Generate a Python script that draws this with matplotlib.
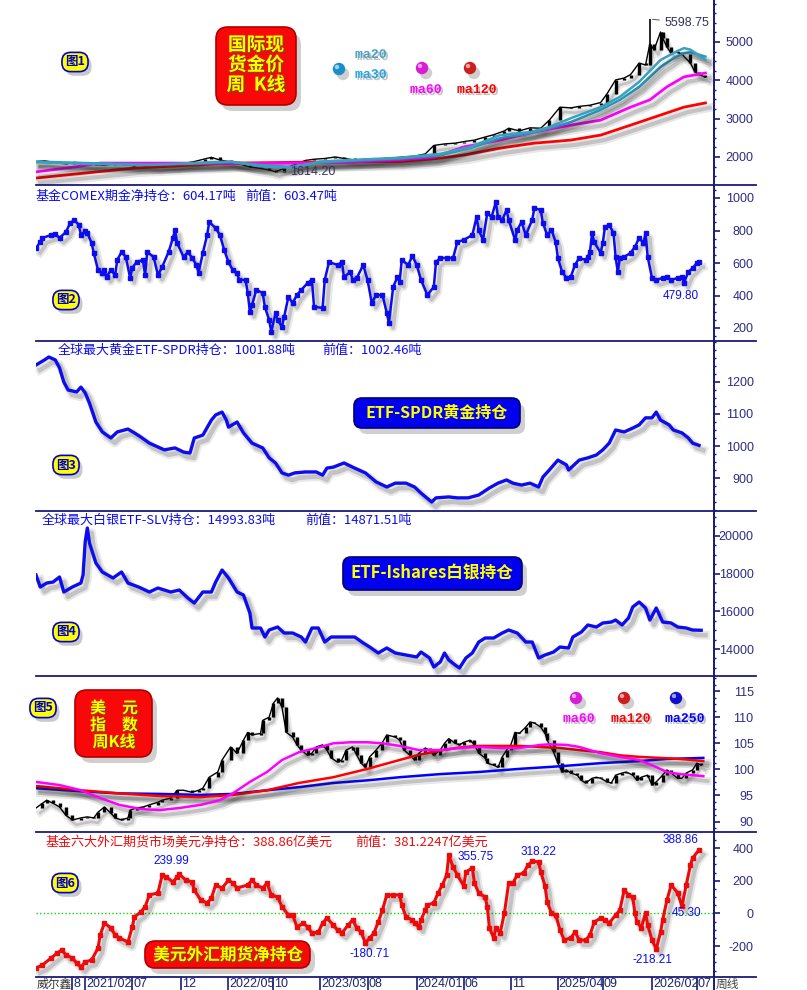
import numpy as np
import matplotlib.pyplot as plt
import matplotlib.patheffects as pe
from matplotlib.patches import FancyBboxPatch
from matplotlib.ticker import AutoMinorLocator

plt.rcParams['font.family'] = ['Noto Sans CJK SC', 'DejaVu Sans']

# ---------------- data (week index since start, value) ----------------
# fig1: gold weekly close + moving averages
gold_wk = [0, 4, 9, 14, 18, 23, 28, 32, 37, 42, 46, 51, 56, 60, 65, 70, 74, 79, 82, 86,
           91, 95, 100, 105, 109, 112, 116, 121, 126, 130, 135, 140, 144, 149, 154, 158, 163, 168, 172, 177,
           182, 186, 191, 196, 200, 205, 210, 214, 219, 221, 226, 231, 236, 240, 245, 250, 254, 259, 264, 267,
           271, 275, 278, 282, 285, 287, 289, 292, 293, 295, 297, 300, 302, 306, 308, 310, 313]
gold_close = [1880, 1900, 1850, 1820, 1860, 1830, 1800, 1780, 1820, 1790, 1770, 1800, 1760, 1780, 1790, 1840, 1880, 1950, 1990, 1920,
              1870, 1820, 1740, 1700, 1660, 1614, 1700, 1800, 1910, 1940, 1960, 2000, 1960, 1920, 1940, 1930, 1960, 1980, 2000, 2020,
              2080, 2300, 2340, 2360, 2400, 2440, 2520, 2580, 2680, 2750, 2680, 2760, 2750, 2960, 3300, 3280, 3320, 3350, 3420, 3650,
              4010, 4060, 4150, 4450, 4400, 4950, 4800, 5260, 5100, 4870, 4700, 4740, 4680, 4450, 4220, 4150, 4080]
gold_peak_wk, gold_peak = 287, 5598.75
gold_low_wk, gold_low = 112, 1614.20

gma_wk = [0, 30, 53, 77, 91, 105, 119, 133, 151, 170, 189, 203, 217, 231, 240, 250, 264, 273, 282, 292, 299, 303, 306, 313]
gma20 = [1860, 1810, 1790, 1850, 1880, 1760, 1720, 1880, 1930, 1980, 2080, 2260, 2570, 2650, 2780, 3010, 3300, 3570, 3960, 4530, 4740, 4840, 4800, 4530]
gma30 = [1880, 1830, 1800, 1830, 1870, 1790, 1740, 1850, 1910, 1960, 2040, 2230, 2490, 2620, 2750, 2910, 3230, 3490, 3830, 4350, 4610, 4710, 4730, 4620]
gma60_wk = [0, 21, 30, 63, 105, 142, 170, 186, 200, 217, 233, 250, 264, 278, 287, 295, 303, 313]
gma60 = [1610, 1760, 1840, 1840, 1830, 1850, 1920, 1990, 2260, 2440, 2650, 2830, 2960, 3300, 3490, 3830, 4090, 4190]
gma120_wk = [0, 46, 92, 139, 170, 186, 200, 217, 233, 250, 264, 278, 295, 303, 313]
gma120 = [1450, 1710, 1840, 1870, 1880, 1950, 2050, 2230, 2360, 2440, 2570, 2830, 3150, 3300, 3410]

# fig2: COMEX fund net gold position (t)
comex_wk = [0, 2, 3, 7, 9, 11, 14, 16, 18, 20, 21, 23, 24, 26, 27, 29, 31, 32, 33, 35,
            37, 38, 40, 42, 44, 45, 47, 50, 51, 52, 55, 57, 59, 62, 64, 65, 66, 69, 71, 73,
            75, 76, 78, 80, 81, 84, 86, 88, 90, 92, 94, 95, 98, 99, 100, 101, 103, 106, 107, 109,
            110, 112, 113, 115, 116, 118, 120, 122, 124, 127, 129, 130, 134, 135, 137, 141, 143, 144, 147, 148,
            150, 153, 155, 157, 159, 162, 164, 165, 167, 169, 170, 171, 174, 176, 178, 180, 183, 186, 187, 189,
            192, 195, 197, 200, 204, 206, 207, 209, 211, 213, 215, 216, 218, 220, 221, 224, 225, 227, 229, 232,
            233, 236, 237, 239, 241, 243, 244, 246, 248, 250, 252, 254, 257, 258, 259, 260, 261, 264, 265, 266,
            268, 270, 271, 272, 273, 275, 278, 280, 282, 284, 285, 286, 288, 290, 293, 295, 297, 300, 302, 303,
            305, 307, 309, 310]
comex_val = [692, 729, 754, 772, 778, 754, 791, 846, 865, 834, 772, 797, 785, 723, 662, 557, 539, 557, 514, 557,
             526, 619, 668, 637, 508, 569, 606, 619, 526, 668, 637, 526, 576, 668, 754, 803, 723, 637, 668, 631,
             588, 539, 662, 772, 852, 815, 772, 680, 606, 557, 539, 496, 496, 416, 299, 342, 434, 416, 330, 250,
             176, 293, 250, 207, 268, 391, 354, 403, 434, 477, 496, 330, 324, 496, 606, 588, 606, 514, 545, 496,
             508, 588, 496, 354, 403, 403, 293, 231, 453, 514, 483, 619, 588, 643, 588, 496, 403, 453, 606, 631,
             631, 631, 729, 742, 772, 883, 803, 742, 908, 883, 975, 883, 865, 926, 865, 742, 803, 852, 772, 865,
             938, 926, 846, 772, 803, 729, 631, 545, 508, 514, 588, 631, 619, 637, 668, 785, 729, 662, 723, 822,
             834, 785, 637, 545, 631, 637, 662, 699, 754, 723, 785, 637, 508, 496, 508, 514, 496, 508, 514, 479.8,
             545, 569, 600, 604.17]
comex_low = 479.80

# fig3: SPDR gold ETF holdings (t)
spdr_wk = [0, 4, 6, 9, 11, 13, 15, 19, 21, 23, 25, 28, 31, 35, 38, 43, 46, 49, 53, 57,
           60, 65, 69, 72, 74, 78, 82, 84, 87, 89, 90, 94, 97, 101, 106, 109, 112, 115, 118, 121,
           126, 131, 134, 136, 139, 144, 149, 154, 159, 164, 168, 173, 177, 180, 185, 187, 193, 197, 202, 207,
           212, 216, 220, 223, 227, 231, 235, 237, 240, 244, 248, 249, 254, 258, 262, 265, 268, 271, 275, 279,
           282, 285, 288, 290, 292, 296, 298, 302, 305, 307, 310]
spdr_val = [1253, 1269, 1278, 1269, 1244, 1200, 1175, 1169, 1184, 1166, 1134, 1075, 1044, 1025, 1044, 1053, 1041, 1028, 1009, 997,
            988, 994, 981, 978, 1025, 1034, 1081, 1097, 1106, 1081, 1059, 1075, 1041, 1009, 994, 963, 947, 916, 909, 916,
            919, 919, 909, 931, 934, 947, 931, 916, 888, 872, 884, 884, 872, 853, 825, 838, 841, 838, 838, 847,
            869, 884, 894, 884, 878, 884, 872, 903, 925, 956, 941, 925, 956, 963, 972, 988, 1009, 1050, 1044, 1056,
            1066, 1088, 1088, 1106, 1081, 1066, 1050, 1041, 1025, 1009, 1002]

# fig4: SLV silver ETF holdings (t)
slv_wk = [0, 2, 5, 8, 11, 13, 17, 21, 22, 23, 24, 25, 28, 31, 36, 40, 43, 48, 53, 57,
          63, 67, 71, 74, 78, 82, 84, 87, 90, 94, 97, 100, 101, 105, 107, 109, 113, 116, 120, 124,
          126, 129, 132, 135, 138, 143, 149, 153, 156, 160, 164, 168, 173, 178, 180, 184, 186, 189, 191, 193,
          196, 198, 201, 204, 207, 210, 214, 218, 221, 225, 229, 232, 235, 238, 242, 245, 249, 251, 255, 258,
          262, 265, 269, 271, 274, 277, 279, 282, 285, 287, 290, 293, 297, 300, 304, 307, 311]
slv_val = [17926, 17289, 17500, 17554, 17820, 17024, 17289, 17500, 17926, 19676, 20419, 19623, 18562, 18085, 17767, 18085, 17500, 17289, 17024, 17236,
           17024, 17130, 16706, 16440, 17024, 17024, 17554, 18190, 17767, 17024, 16865, 15910, 15114, 15114, 14637, 15008, 15167, 14849, 14849, 14637,
           14371, 15114, 15114, 14371, 14637, 14637, 14637, 14318, 14106, 13788, 14053, 13788, 13682, 13576, 13841, 13523, 13045, 13311, 13788, 13417,
           13151, 12992, 13523, 13788, 14371, 14584, 14584, 14849, 15008, 14849, 14371, 14371, 13523, 13682, 13841, 14106, 14053, 14637, 14902, 15273,
           15167, 15379, 15432, 15538, 15273, 15644, 16228, 16493, 16175, 15538, 16175, 15432, 15379, 15167, 15114, 15008, 14994]

# fig5: US dollar index weekly close + moving averages
dxy_wk = [0, 3, 5, 8, 11, 14, 17, 21, 24, 27, 29, 32, 35, 37, 40, 43, 44, 47, 50, 53,
          57, 59, 63, 66, 69, 73, 76, 78, 81, 85, 87, 91, 94, 97, 99, 101, 105, 106, 109, 111,
          113, 115, 117, 120, 122, 124, 127, 129, 131, 134, 136, 138, 141, 143, 145, 148, 150, 152, 154, 156,
          159, 162, 164, 168, 170, 172, 175, 177, 179, 182, 184, 186, 189, 191, 193, 196, 198, 200, 203, 205,
          207, 210, 211, 214, 216, 218, 220, 222, 224, 226, 229, 231, 233, 236, 238, 239, 242, 244, 246, 248,
          250, 253, 255, 257, 260, 262, 264, 267, 269, 271, 274, 276, 279, 281, 283, 286, 288, 290, 293, 295,
          297, 300, 302, 304, 307, 309, 311]
dxy_close = [92.6, 93.5, 94.1, 93.5, 92.8, 91.2, 90.3, 90.7, 90.9, 90.7, 91.8, 92.8, 91.6, 90.7, 90.3, 90.7, 92.2, 92.6, 92.8, 93.2,
             93.7, 94.1, 94.5, 96.0, 96.0, 95.6, 96.0, 96.4, 98.5, 99.5, 101.8, 104.3, 103.1, 105.6, 107.1, 106.6, 106.9, 109.4, 110.0, 112.7,
             113.7, 111.9, 107.1, 106.2, 104.7, 103.7, 102.7, 103.1, 104.3, 104.7, 103.7, 102.2, 101.4, 101.8, 103.7, 104.3, 102.7, 101.2, 100.4, 102.4,
             103.7, 105.2, 106.6, 106.2, 105.6, 103.7, 102.7, 101.8, 103.1, 104.1, 103.7, 102.7, 103.7, 105.0, 105.9, 105.0, 104.7, 105.2, 105.6, 104.7,
             103.1, 102.2, 101.2, 100.8, 100.4, 102.4, 103.7, 104.7, 107.1, 106.9, 108.1, 109.1, 108.9, 108.1, 106.9, 105.6, 103.3, 101.2, 99.5, 99.9,
             99.3, 98.9, 97.9, 97.4, 98.3, 98.5, 98.3, 97.6, 97.4, 98.9, 99.3, 99.5, 98.9, 97.9, 98.5, 98.9, 97.0, 97.6, 98.9, 99.9,
             99.3, 98.3, 98.3, 99.3, 99.9, 101.2, 100.8]
dma60_wk = [0, 11, 21, 30, 39, 49, 58, 67, 77, 86, 92, 100, 108, 115, 123, 133, 139, 147, 155, 162,
            170, 179, 189, 198, 207, 217, 226, 236, 240, 248, 254, 264, 273, 282, 288, 295, 301, 307, 312]
dma60 = [97.6, 97.0, 96.0, 94.5, 93.2, 92.4, 92.2, 92.6, 93.2, 94.1, 95.4, 97.6, 99.5, 101.8, 103.3, 104.3, 105.0, 105.2, 105.2, 105.0,
         104.5, 103.7, 103.7, 104.1, 104.3, 104.1, 104.1, 104.7, 104.8, 104.7, 104.3, 103.1, 102.4, 101.8, 100.8, 99.5, 99.1, 98.9, 98.7]
dma120_wk = [0, 21, 39, 58, 77, 92, 108, 123, 139, 155, 170, 179, 189, 198, 207, 217, 226, 236, 245, 254, 264, 273, 282, 292, 301, 312]
dma120 = [96.8, 96.0, 95.4, 94.9, 94.7, 95.1, 96.0, 97.4, 98.5, 100.1, 101.8, 102.8, 103.6, 104.2, 104.5, 104.5, 104.5, 104.3, 104.1, 103.7,
          103.3, 102.7, 102.4, 102.2, 102.0, 101.6]
dma250_wk = [0, 21, 39, 58, 77, 92, 108, 123, 139, 155, 170, 189, 207, 226, 245, 264, 282, 295, 312]
dma250 = [96.4, 95.8, 95.4, 95.3, 95.1, 95.3, 96.0, 96.6, 97.4, 97.9, 98.5, 99.1, 99.5, 100.1, 100.6, 101.2, 101.6, 102.0, 102.2]

# fig6: fund net USD position on six FX futures (100M USD)
usd_wk = [0, 3, 7, 10, 12, 14, 17, 19, 21, 23, 26, 29, 30, 32, 35, 37, 39, 43, 45, 46,
          49, 51, 53, 57, 59, 61, 64, 66, 67, 70, 73, 74, 77, 80, 82, 84, 87, 90, 92, 94,
          99, 101, 103, 106, 108, 110, 113, 115, 118, 120, 122, 125, 127, 129, 132, 134, 136, 139, 141, 143,
          146, 148, 150, 152, 154, 156, 158, 160, 162, 164, 167, 170, 171, 173, 176, 177, 179, 180, 182, 183,
          186, 188, 190, 192, 193, 195, 197, 200, 201, 204, 205, 207, 210, 211, 212, 214, 215, 217, 219, 221,
          223, 225, 228, 230, 232, 235, 236, 238, 239, 241, 243, 245, 247, 250, 252, 254, 257, 259, 261, 264,
          266, 268, 271, 273, 275, 277, 279, 280, 281, 283, 285, 286, 288, 290, 292, 293, 295, 297, 300, 302,
          304, 306, 307, 310]
usd_val = [-334, -316, -273, -242, -224, -254, -273, -303, -328, -297, -285, -212, -132, -59, -89, -132, -150, -175, -83, -22,
           9, 40, 113, 125, 235, 223, 192, 223, 240, 204, 192, 143, 82, 64, 94, 174, 155, 204, 186, 155,
           174, 204, 174, 155, 186, 113, 100, 40, -10, -10, -83, -59, -83, -120, -114, -59, -28, -71, -102, -120,
           -71, -40, -89, -114, -181, -150, -120, -53, 21, 113, 113, 113, 52, -22, -40, -59, -83, -40, 21, 52,
           64, 125, 174, 235, 356, 284, 235, 168, 253, 278, 186, 125, 100, 40, -89, -150, -89, -120, 3, 186,
           186, 235, 247, 296, 318, 315, 253, 168, 70, 3, -10, -102, -163, -150, -114, -163, -163, -132, -53, -28,
           -40, -59, -10, 21, 143, 113, 100, 3, -53, -89, 3, -71, -163, -218, -114, -40, 82, 174, 125, 45,
           174, 296, 339, 389]
# labelled extremes of fig6: (text, label week, label value)
usd_marks = [('239.99', 54.7, 320), ('-180.71', 146.7, -248), ('355.75', 197.2, 345), ('318.22', 226.6, 376),
             ('388.86', 293, 449), ('45.30', 297.2, 2), ('-218.21', 278.9, -285)]

# bottom date strip
date_wk = [17, 23, 45, 68, 90, 111, 133, 155, 178, 200, 222, 244, 265, 288, 309]
date_lbl = ['8', '2021/02', '07', '12', '2022/05', '10', '2023/03', '08', '2024/01', '06', '11', '2025/04', '09', '2026/02', '07']

# right axis ticks per panel
ticks1 = [2000, 3000, 4000, 5000]
ticks2 = [200, 400, 600, 800, 1000]
ticks3 = [900, 1000, 1100, 1200]
ticks4 = [14000, 16000, 18000, 20000]
ticks5 = [90, 95, 100, 105, 110, 115]
ticks6 = [-200, 0, 200, 400]

# ---------------- layout ----------------
W, H = 807, 990
X0, X1 = 36, 714
NWEEK = 317
NAVY = '#1a1a78'
LBL = '#2c2c88'
BLUE = '#0c0cee'
RED = '#ee0a0a'

fig = plt.figure(figsize=(W / 100, H / 100), dpi=100)
fig.patch.set_facecolor('white')


def shadow(lw):
    # soft drop shadow: a wide faint pass plus a narrower darker one
    return [pe.SimpleLineShadow(offset=(3, -3.5), shadow_color='#202020', alpha=0.10, linewidth=lw + 4),
            pe.SimpleLineShadow(offset=(3, -3.5), shadow_color='#202020', alpha=0.18, linewidth=lw + 1),
            pe.Normal()]


def panel(top, bot, ylim, ticks):
    ax = fig.add_axes([X0 / W, 1 - bot / H, (X1 - X0) / W, (bot - top) / H])
    ax.set_xlim(0, NWEEK)
    ax.set_ylim(*ylim)
    ax.patch.set_alpha(0)
    for s in ('left', 'top', 'bottom'):
        ax.spines[s].set_visible(False)
    ax.spines['right'].set_color(NAVY)
    ax.spines['right'].set_linewidth(1.4)
    ax.set_xticks([])
    ax.yaxis.tick_right()
    ax.set_yticks(ticks)
    ax.set_yticklabels([str(t) for t in ticks], ha='right', fontfamily='Liberation Sans', fontsize=9)
    ax.yaxis.set_minor_locator(AutoMinorLocator(4))
    ax.tick_params(axis='y', which='major', length=4.5, width=1.2, color=NAVY, labelcolor=LBL, pad=24)
    ax.tick_params(axis='y', which='minor', length=1.5, width=1, color=NAVY)
    return ax


def candles(ax, wk, close):
    close = np.asarray(close, dtype=float)
    opn = np.r_[close[0], close[:-1]]
    ax.plot(wk, close, color='k', lw=1.0, path_effects=shadow(1.0))
    ax.vlines(wk, np.minimum(opn, close), np.maximum(opn, close), color='k', lw=2.4)


def marked(ax, wk, val, color, lw, ms):
    ax.plot(wk, val, color=color, lw=lw, path_effects=shadow(lw))
    ax.plot(wk, val, ls='none', marker='s', ms=ms, color=color)


# fig1 gold
ax1 = panel(0, 185, (1268, 6096), ticks1)
candles(ax1, gold_wk, gold_close)
ax1.vlines([gold_peak_wk], [gold_close[gold_wk.index(gold_peak_wk)]], [gold_peak], color='k', lw=1.2)
ax1.plot(gma120_wk, gma120, color='#ff0000', lw=2.0, path_effects=shadow(2.0))
ax1.plot(gma60_wk, gma60, color='#ff00ff', lw=2.0, path_effects=shadow(2.0))
ax1.plot(gma_wk, gma30, color='#2aa0c6', lw=1.8, path_effects=shadow(1.8))
ax1.plot(gma_wk, gma20, color='#3b9fbd', lw=1.8, path_effects=shadow(1.8))
ax1.annotate(f'{gold_peak:.2f}', xy=(gold_peak_wk, gold_peak), xytext=(294, 5500), ha='left', va='center',
             fontsize=9, fontfamily='Liberation Sans', color='#333355',
             arrowprops=dict(arrowstyle='-', color='#555555', lw=0.7))
ax1.annotate(f'{gold_low:.2f}', xy=(gold_low_wk, gold_low), xytext=(119, 1607), ha='left', va='center',
             fontsize=9, fontfamily='Liberation Sans', color='#333355',
             arrowprops=dict(arrowstyle='-', color='#555555', lw=0.7))

# fig2 COMEX
ax2 = panel(185, 341, (120, 1080), ticks2)
marked(ax2, comex_wk, comex_val, BLUE, 1.8, 2.8)
ax2.text(293, 397, f'{comex_low:.2f}', ha='left', va='center',
         fontsize=8.5, fontfamily='Liberation Sans', color=BLUE)

# fig3 SPDR
ax3 = panel(341, 511, (797, 1328), ticks3)
ax3.plot(spdr_wk, spdr_val, color=BLUE, lw=2.4, path_effects=shadow(2.4))

# fig4 SLV
ax4 = panel(511, 677, (12515, 21321), ticks4)
ax4.plot(slv_wk, slv_val, color=BLUE, lw=2.4, path_effects=shadow(2.4))

# fig5 DXY
ax5 = panel(676, 832, (88.0, 117.9), ticks5)
candles(ax5, dxy_wk, dxy_close)
ax5.plot(dma250_wk, dma250, color='#0000ff', lw=1.8, path_effects=shadow(1.8))
ax5.plot(dma120_wk, dma120, color='#ff0000', lw=1.8, path_effects=shadow(1.8))
ax5.plot(dma60_wk, dma60, color='#ff00ff', lw=1.8, path_effects=shadow(1.8))

# fig6 USD net position
ax6 = panel(832, 977, (-389, 498), ticks6)
ax6.axhline(0, color='#00dd00', lw=1.0, ls=(0, (1, 1.6)))
marked(ax6, usd_wk, usd_val, RED, 2.2, 3.2)
for txt, x, y in usd_marks:
    ax6.text(x, y, txt, ha='left', va='center', fontsize=8.5, fontfamily='Liberation Sans', color=BLUE)

# date strip
ax7 = fig.add_axes([X0 / W, 0, (X1 - X0) / W, 13 / H])
ax7.set_xlim(0, NWEEK)
ax7.set_ylim(0, 1)
ax7.axis('off')
ax7.vlines(date_wk, 0, 1, color=NAVY, lw=1.2)
for w, s in zip(date_wk, date_lbl):
    ax7.text(w + 0.4, 0.45, s, ha='left', va='center', fontsize=9, fontfamily='Liberation Sans', color='#1c2470')

# ---------------- overlay decorations (pixel coords) ----------------
ov = fig.add_axes([0, 0, 1, 1])
ov.set_xlim(0, W)
ov.set_ylim(H, 0)
ov.axis('off')

for yy in [185, 341, 511, 676, 832, 977]:
    ov.plot([X0, 756], [yy, yy], color=NAVY, lw=1.3)
ov.plot([X1, X1], [977, 990], color=NAVY, lw=1.4)
ov.text(37, 984, '威尔鑫', ha='left', va='center', fontsize=8.5, color='#333333')
ov.text(716, 984, '周线', ha='left', va='center', fontsize=8.5, color='#444444')


def rbox(x0, y0, x1, y1, fc, ec, r):
    ov.add_patch(FancyBboxPatch((x0 + 5, y0 + 6), x1 - x0, y1 - y0, boxstyle=f'round,pad=0,rounding_size={r}',
                                fc='#777777', ec='none', alpha=0.35))
    ov.add_patch(FancyBboxPatch((x0, y0), x1 - x0, y1 - y0, boxstyle=f'round,pad=0,rounding_size={r}',
                                fc=fc, ec=ec, lw=1.2))


TXT_FX = [pe.withSimplePatchShadow(offset=(1, -1), shadow_rgbFace='#7a4a00', alpha=0.9)]
BOX_FX = [pe.withSimplePatchShadow(offset=(2.5, -3), shadow_rgbFace='#888888', alpha=0.45)]


def badge(x, y, s):
    t = ov.text(x, y, s, ha='center', va='center', fontsize=9, weight='bold', color='#0000cc',
                bbox=dict(boxstyle='round,pad=0.25,rounding_size=0.7', fc='#ffff00', ec='#0000cc', lw=1.2))
    t.get_bbox_patch().set_path_effects(BOX_FX)


def ball(x, y, c):
    ov.scatter([x + 4], [y + 5], s=80, c='#777777', alpha=0.35, edgecolors='none')
    ov.scatter([x], [y], s=80, c=c, edgecolors='none')
    ov.scatter([x - 2], [y - 2], s=10, c='white', alpha=0.6, edgecolors='none')


LEG_FX = [pe.withSimplePatchShadow(offset=(1.5, -1.5), shadow_rgbFace='#999999', alpha=0.6)]


def leg(x, y, s, c):
    ov.text(x, y, s, ha='left', va='center', fontsize=9.5, fontfamily='Liberation Mono', weight='bold',
            color=c, path_effects=LEG_FX)


# fig1 box and legend
rbox(216, 27, 296, 105, '#f80808', '#b00000', 12)
for s, yy in [('国际现', 45), ('货金价', 65), ('周  K线', 85)]:
    ov.text(256, yy, s, ha='center', va='center', fontsize=13.5, weight='bold', color='#ffff00', path_effects=TXT_FX)
ball(339, 69, '#1a8fc8')
ball(422, 68, '#d81cd8')
ball(470, 68, '#cc2020')
leg(355, 55, 'ma20', '#4aa3c2')
leg(355, 75, 'ma30', '#22a8dd')
leg(410, 90, 'ma60', '#ff00ff')
leg(457, 90, 'ma120', '#ff0000')

# fig3 / fig4 blue labels
rbox(354, 398, 520, 428, '#0000ee', '#000070', 8)
ov.text(437, 413, 'ETF-SPDR黄金持仓', ha='center', va='center', fontsize=11.5, weight='bold', color='#ffff00')
rbox(343, 557, 522, 590, '#0000ee', '#000070', 8)
ov.text(432, 573, 'ETF-Ishares白银持仓', ha='center', va='center', fontsize=12, weight='bold', color='#ffff00')

# fig5 box and legend
rbox(75, 690, 152, 757, '#f80808', '#b00000', 12)
for s, yy in [('美　元', 708), ('指　数', 725), ('周K线', 742)]:
    ov.text(114, yy, s, ha='center', va='center', fontsize=11.5, weight='bold', color='#ffff00', path_effects=TXT_FX)
ball(576, 698, '#d81cd8')
ball(624, 698, '#cc2020')
ball(676, 698, '#1010cc')
leg(563, 719, 'ma60', '#ff00ff')
leg(611, 719, 'ma120', '#ff0000')
leg(665, 719, 'ma250', '#0000ff')

# fig6 red label
rbox(145, 941, 310, 968, '#f80808', '#b00000', 10)
ov.text(228, 955, '美元外汇期货净持仓', ha='center', va='center', fontsize=12, weight='bold', color='#ffff00', path_effects=TXT_FX)

# badges
for (bx, by), s in zip([(75, 62), (66, 300), (66, 465), (66, 632), (43, 708), (65, 883)],
                       ['图1', '图2', '图3', '图4', '图5', '图6']):
    badge(bx, by, s)

# panel titles
TF = 9.4
ov.text(36, 196, '基金COMEX期金净持仓：604.17吨', ha='left', va='center', fontsize=TF, color=BLUE)
ov.text(245, 196, '前值：603.47吨', ha='left', va='center', fontsize=TF, color=BLUE)
ov.text(58, 350, '全球最大黄金ETF-SPDR持仓：1001.88吨', ha='left', va='center', fontsize=TF, color=BLUE)
ov.text(322, 350, '前值：1002.46吨', ha='left', va='center', fontsize=TF, color=BLUE)
ov.text(42, 520, '全球最大白银ETF-SLV持仓：14993.83吨', ha='left', va='center', fontsize=TF, color=BLUE)
ov.text(305, 520, '前值：14871.51吨', ha='left', va='center', fontsize=TF, color=BLUE)
ov.text(45, 842, '基金六大外汇期货市场美元净持仓：388.86亿美元', ha='left', va='center', fontsize=TF, color=RED)
ov.text(355, 842, '前值：381.2247亿美元', ha='left', va='center', fontsize=TF, color=RED)

fig.savefig('out.png', dpi=100)
